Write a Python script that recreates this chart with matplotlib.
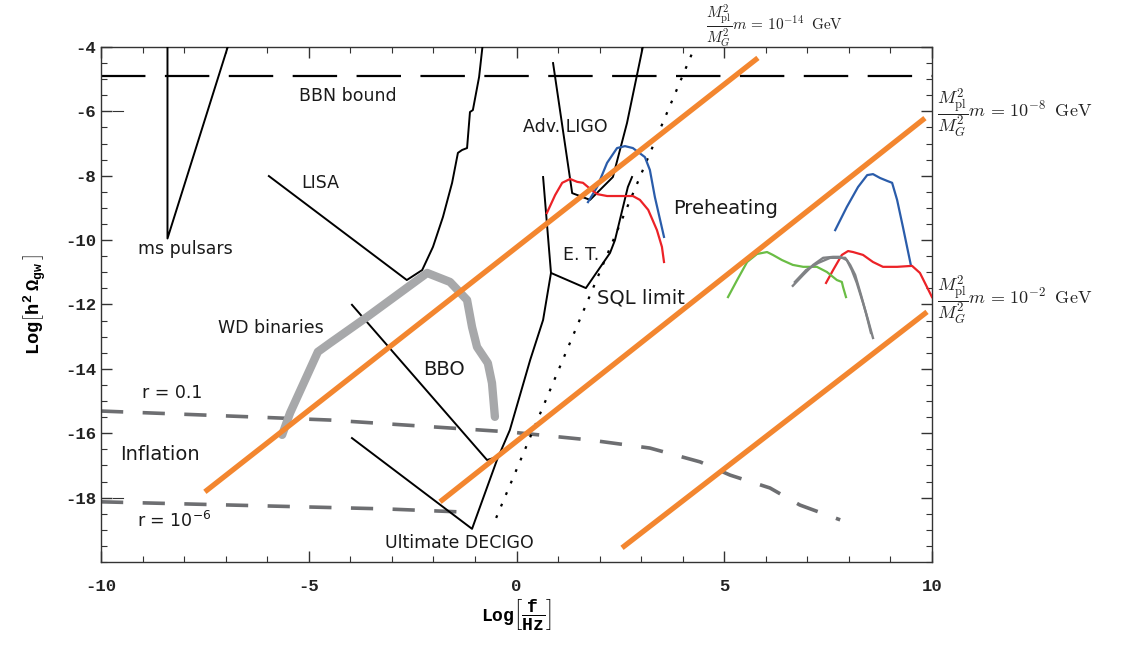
import numpy as np
import matplotlib
matplotlib.use('Agg')
import matplotlib.pyplot as plt
from matplotlib.ticker import MultipleLocator


# frame / tick style (monospace bold labels, ticks pointing in on all sides)
plt.rcParams['axes.unicode_minus'] = False
plt.rcParams['lines.scale_dashes'] = False
plt.rcParams['mathtext.fontset'] = 'custom'
plt.rcParams['mathtext.rm'] = 'Liberation Mono:bold'
plt.rcParams['mathtext.it'] = 'Liberation Mono:bold'
plt.rcParams['mathtext.bf'] = 'Liberation Mono:bold'


# -------------------- #
#  DETECTOR SENSITIVITY #
# -------------------- #

bbn_level = -4.9

pulsar_x = [-8.4, -8.4, -6.95]
pulsar_y = [-4.0, -9.95, -4.0]

lisa_x = [-0.82, -0.90, -1.05, -1.12, -1.19, -1.31, -1.41, -1.55, -1.77, -2.01, -2.27, -2.64, -5.96]
lisa_y = [-4.0, -4.93, -5.96, -6.02, -7.14, -7.20, -7.29, -8.22, -9.28, -10.21, -10.93, -11.24, -8.01]

bbo_x = [-3.96, -0.71, -0.47]
bbo_y = [-12.01, -16.83, -16.74]

decigo_x = [-3.96, -1.07, -0.47, -0.16, 0.33, 0.64, 0.83]
decigo_y = [-16.15, -18.97, -16.83, -15.90, -13.72, -12.48, -11.02]

et_x = [0.64, 0.83, 1.67, 2.25, 2.37, 2.68, 2.78]
et_y = [-8.04, -11.02, -11.49, -10.40, -10.00, -8.35, -8.04]

ligo_x = [0.88, 1.34, 1.77, 2.32, 2.66, 3.04]
ligo_y = [-4.50, -8.54, -8.75, -8.04, -6.36, -4.0]

sql_x = [-0.49, 4.29]
sql_y = [-18.63, -4.0]

# white dwarf binary foreground
wd_x = [-5.64, -5.45, -4.78, -4.49, -3.60, -2.15, -1.60, -1.19, -1.07, -0.95, -0.69, -0.59, -0.52]
wd_y = [-16.05, -15.37, -13.47, -13.20, -12.39, -11.02, -11.30, -11.86, -12.70, -13.32, -13.82, -14.44, -15.49]

# inflationary background, two tensor-to-scalar ratios
infl_hi_x = [-10.0, -6.41, -4.49, -0.16, 1.77, 3.21, 4.42, 5.14, 6.10, 6.82, 7.79]
infl_hi_y = [-15.31, -15.49, -15.59, -15.96, -16.21, -16.46, -16.89, -17.30, -17.70, -18.23, -18.69]
infl_lo_x = [-10.0, -3.16, -1.24]
infl_lo_y = [-18.13, -18.35, -18.45]

# -------------------- #
#  PREHEATING SPECTRA   #
# -------------------- #

blue_a_x = [1.72, 1.94, 2.18, 2.42, 2.61, 2.80, 3.09, 3.21, 3.33, 3.55]
blue_a_y = [-8.82, -8.35, -7.60, -7.14, -7.08, -7.14, -7.42, -7.82, -8.66, -9.90]
red_a_x = [0.73, 0.93, 1.10, 1.29, 1.46, 1.60, 1.72, 1.94, 2.18, 2.49, 2.80, 2.97, 3.17, 3.38, 3.50, 3.55]
red_a_y = [-9.16, -8.60, -8.22, -8.10, -8.19, -8.22, -8.35, -8.57, -8.63, -8.63, -8.63, -8.75, -9.06, -9.69, -10.21, -10.68]

blue_b_x = [7.67, 7.95, 8.22, 8.44, 8.58, 8.75, 8.92, 9.04, 9.16, 9.30, 9.49]
blue_b_y = [-9.69, -8.97, -8.35, -7.98, -7.95, -8.07, -8.16, -8.22, -8.75, -9.59, -10.77]
red_b_x = [7.45, 7.62, 7.83, 7.98, 8.10, 8.34, 8.58, 8.82, 9.16, 9.52, 9.71, 9.88, 10.0]
red_b_y = [-11.33, -10.93, -10.46, -10.34, -10.37, -10.46, -10.68, -10.83, -10.83, -10.80, -11.02, -11.46, -11.77]
green_x = [5.09, 5.31, 5.55, 5.79, 6.03, 6.17, 6.39, 6.65, 6.90, 7.23, 7.47, 7.71, 7.83, 7.86, 7.93]
green_y = [-11.77, -11.24, -10.68, -10.43, -10.37, -10.46, -10.62, -10.77, -10.83, -10.83, -10.99, -11.24, -11.30, -11.46, -11.77]
grey_a_x = [6.65, 6.90, 7.14, 7.38, 7.62, 7.79, 7.95, 8.07, 8.19, 8.34, 8.46, 8.58]
grey_a_y = [-11.42, -11.08, -10.77, -10.55, -10.52, -10.52, -10.62, -10.93, -11.33, -11.95, -12.48, -13.04]
grey_b_x = [6.70, 6.97, 7.26, 7.55, 7.91, 8.03, 8.15, 8.29, 8.41, 8.53]
grey_b_y = [-11.30, -10.93, -10.71, -10.55, -10.55, -10.77, -11.08, -11.70, -12.26, -12.88]

# graviton mass lines (start, end)
mass_x = [[-7.50, 5.81], [-1.84, 9.83], [2.54, 9.88]]
mass_y = [[-17.82, -4.34], [-18.13, -6.21], [-19.56, -12.23]]
mass_labels = [r'$\dfrac{M_{\rm pl}^2}{M_G^2}m\,=\,10^{-14}\;\;{\rm GeV}$',
               r'$\dfrac{M_{\rm pl}^2}{M_G^2}m\,=\,10^{-8}\;\;{\rm GeV}$',
               r'$\dfrac{M_{\rm pl}^2}{M_G^2}m\,=\,10^{-2}\;\;{\rm GeV}$']
# (x, y, size)
mass_label_pos = [(4.55, -3.32, 11), (10.12, -6.05, 13), (10.12, -11.86, 13)]

# text annotations: (text, x, y, size)
notes = [('BBN bound', -4.06, -5.52, 12.5),
         ('ms pulsars', -7.98, -10.28, 12.5),
         ('LISA', -4.73, -8.22, 12.5),
         ('WD binaries', -5.91, -12.73, 12.5),
         ('BBO', -1.74, -14.03, 14),
         ('r = 0.1', -8.29, -14.75, 12.5),
         ('Inflation', -8.58, -16.67, 14),
         (r'r = 10$^{-6}$', -8.24, -18.72, 12.5),
         ('Ultimate DECIGO', -1.38, -19.41, 12.5),
         ('Adv. LIGO', 1.17, -6.49, 12.5),
         ('E. T.', 1.55, -10.46, 12.5),
         ('SQL limit', 3.00, -11.80, 14),
         ('Preheating', 5.04, -9.03, 14)]

stray_ticks_y = [-6, -18]


fig = plt.figure(figsize=(11.21, 6.48), dpi=100)
ax = fig.add_axes([0.0901, 0.1327, 0.7413, 0.7948])

# dashed bounds
ax.axhline(bbn_level, color='black', lw=1.6, dashes=(32, 14), zorder=2)
dash_grey = '#6d6e71'
ax.plot(infl_hi_x, infl_hi_y, color=dash_grey, lw=2.6, dashes=(16, 14), zorder=2)
ax.plot(infl_lo_x, infl_lo_y, color=dash_grey, lw=2.6, dashes=(16, 14), zorder=2)

# detector curves
for xs, ys in [(pulsar_x, pulsar_y), (lisa_x, lisa_y), (bbo_x, bbo_y),
               (decigo_x, decigo_y), (et_x, et_y), (ligo_x, ligo_y)]:
    ax.plot(xs, ys, color='black', lw=1.4, zorder=3)
ax.plot(sql_x, sql_y, color='black', lw=1.6, dashes=(2, 7), zorder=3)

ax.plot(wd_x, wd_y, color='#a7a8aa', lw=6, solid_capstyle='round',
        solid_joinstyle='round', zorder=4)

# preheating spectra
ax.plot(blue_a_x, blue_a_y, color='#2a5caa', lw=1.6, zorder=5)
ax.plot(red_a_x, red_a_y, color='#ec2227', lw=1.6, zorder=5)
ax.plot(blue_b_x, blue_b_y, color='#2a5caa', lw=1.6, zorder=5)
ax.plot(red_b_x, red_b_y, color='#ec2227', lw=1.6, zorder=5)
ax.plot(green_x, green_y, color='#6abd45', lw=1.6, zorder=5)
ax.plot(grey_a_x, grey_a_y, color='#808285', lw=1.7, zorder=5)
ax.plot(grey_b_x, grey_b_y, color='#808285', lw=1.7, zorder=5)

for xs, ys in zip(mass_x, mass_y):
    ax.plot(xs, ys, color='#f3862f', lw=3.8, solid_capstyle='butt', zorder=6)

for lab, (lx, ly, fs) in zip(mass_labels, mass_label_pos):
    ax.text(lx, ly, lab, fontsize=fs, ha='left', va='center', color='#222222',
            math_fontfamily='cm', clip_on=False)

for txt, tx, ty, fs in notes:
    ax.text(tx, ty, txt, fontsize=fs, ha='center', va='center', color='#1a1a1a',
            family='DejaVu Sans', math_fontfamily='dejavusans', zorder=7)

for sy in stray_ticks_y:
    ax.axhline(sy, xmin=0.014, xmax=0.026, color='#333333', lw=0.8)

ax.set_xlim(-10, 10)
ax.set_ylim(-20, -4)
ax.set_xticks([-10, -5, 0, 5, 10])
ax.set_yticks(np.arange(-18, -3, 2))
ax.xaxis.set_minor_locator(MultipleLocator(1))
ax.yaxis.set_minor_locator(MultipleLocator(0.5))
ax.tick_params(which='both', direction='in', top=True, right=True, color='#333333')
ax.tick_params(which='major', length=8, width=1)
ax.tick_params(which='minor', length=4, width=0.8)
ax.tick_params(axis='x', pad=12)
for lbl in ax.get_xticklabels() + ax.get_yticklabels():
    lbl.set_family('Liberation Mono')
    lbl.set_weight('bold')
    lbl.set_fontsize(12.5)
    lbl.set_color('#222222')
for sp in ax.spines.values():
    sp.set_color('#333333')
    sp.set_linewidth(1.0)

ax.set_xlabel(r'$\mathrm{Log}\left[\dfrac{\mathrm{f}}{\mathrm{Hz}}\right]$', fontsize=13, labelpad=2)
ax.set_ylabel(r'$\mathrm{Log}\left[\mathrm{h}^2\ \Omega_{\mathrm{gw}}\ \right]$', fontsize=13.5, labelpad=12)

fig.savefig('out.png', dpi=100)
